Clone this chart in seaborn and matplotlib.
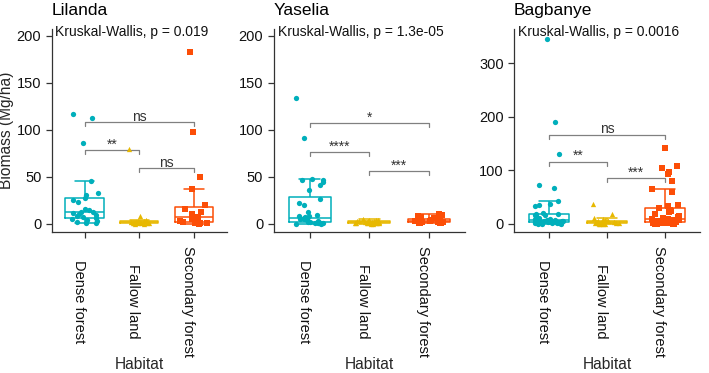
import numpy as np
import pandas as pd
import matplotlib
matplotlib.use("Agg")
import matplotlib.pyplot as plt
import matplotlib.transforms as mtransforms
import seaborn as sns

habitats = ["Dense forest", "Fallow land", "Secondary forest"]
palette = ["#00AFBB", "#E7B800", "#FC4E07"]
markers = ["o", "^", "s"]

sites = ["Lilanda", "Yaselia", "Bagbanye"]
kw_labels = ["Kruskal-Wallis, p = 0.019",
             "Kruskal-Wallis, p = 1.3e-05",
             "Kruskal-Wallis, p = 0.0016"]

# biomass (Mg/ha) per plot
lilanda_dense = [117, 112, 86, 45, 33, 31, 27, 25, 23, 16, 15, 13, 12, 11, 10,
                 9, 8, 7, 6, 5, 4, 3, 2, 1, 0.5]
lilanda_fallow = [80, 8, 4, 3, 3, 2, 2, 2, 1.5, 1.5, 1, 1, 1, 0.5, 0.5, 0.3, 0.2, 0.1]
lilanda_secondary = [183, 98, 50, 37, 20, 16, 13, 10, 8, 7, 6, 5, 3, 2, 1, 0.8,
                     0.5, 0.3, 0.2]

yaselia_dense = [134, 91, 48, 47, 46, 44, 41, 36, 26, 22, 20, 12, 9, 8, 8, 7, 6,
                 5, 5, 4, 3, 3, 2, 2, 1.5, 1, 1, 0.8, 0.5, 0.3, 0.2, 0.1]
yaselia_fallow = [5, 4.5, 4, 3.5, 3, 3, 2.5, 2, 2, 1.5, 1.5, 1, 1, 1, 0.8, 0.5,
                  0.5, 0.3, 0.2, 0.1]
yaselia_secondary = [10, 9, 8, 7, 6, 5, 5, 4.5, 4, 3.5, 3, 3, 2.5, 2, 2, 1.5, 1,
                     1, 0.5, 0.3]

bagbanye_dense = [345, 190, 131, 72, 67, 42, 38, 36, 34, 20, 19, 18, 17, 16, 15,
                  12, 10, 9, 8, 7, 7, 6, 6, 5, 5, 4, 4, 3.5, 3, 3, 2.5, 2, 2,
                  1.5, 1, 1, 0.8, 0.5, 0.3]
bagbanye_fallow = [38, 19, 11, 9, 7, 6, 5, 5, 4, 4, 3, 3, 2.5, 2, 2, 1.5, 1, 1,
                   0.8, 0.5, 0.3, 0.2]
bagbanye_secondary = [141, 108, 104, 98, 94, 80, 66, 59, 36, 33, 29, 27, 25, 22,
                      18, 15, 13, 11, 10, 9, 8, 7, 7, 6, 5, 5, 4, 4, 3, 3, 2.5,
                      2, 2, 1.5, 1, 1, 0.8, 0.5, 0.3, 0.2]

site_data = [
    [lilanda_dense, lilanda_fallow, lilanda_secondary],
    [yaselia_dense, yaselia_fallow, yaselia_secondary],
    [bagbanye_dense, bagbanye_fallow, bagbanye_secondary],
]

# pairwise Wilcoxon results: (group a, group b, label)
pair_tests = [
    [(0, 2, "ns"), (0, 1, "**"), (1, 2, "ns")],
    [(0, 2, "*"), (0, 1, "****"), (1, 2, "***")],
    [(0, 2, "ns"), (0, 1, "**"), (1, 2, "***")],
]

sns.set_style("ticks")
plt.rcParams["font.family"] = ["Liberation Sans", "DejaVu Sans"]
np.random.seed(7)

fig = plt.figure(figsize=(7.09, 3.73), dpi=100)

# layout: axes rectangles, y ranges, ticks and bracket heights
axes_pos = [[0.073, 0.378, 0.247, 0.544],
            [0.386, 0.378, 0.270, 0.544],
            [0.725, 0.378, 0.262, 0.544]]
ylims = [(-8.8, 207), (-8.8, 207), (-15, 364)]
yticks = [[0, 50, 100, 150, 200], [0, 50, 100, 150, 200], [0, 100, 200, 300]]
bracket_y = [[108, 78, 59], [107, 76, 56], [167, 116, 86]]
label_shift = mtransforms.ScaledTranslation(-6 / 100, 0, fig.dpi_scale_trans)

for i, site in enumerate(sites):
    ax = fig.add_axes(axes_pos[i])
    rows = []
    for h, vals in zip(habitats, site_data[i]):
        rows += [(h, v) for v in vals]
    df = pd.DataFrame(rows, columns=["Habitat", "Biomass"])

    sns.boxplot(data=df, x="Habitat", y="Biomass", order=habitats, hue="Habitat",
                hue_order=habitats, palette=palette, fill=False, showfliers=False,
                width=0.7, linewidth=1.1, legend=False, ax=ax)
    for h, c, m in zip(habitats, palette, markers):
        sns.stripplot(data=df[df["Habitat"] == h], x="Habitat", y="Biomass",
                      order=habitats, color=c, marker=m, size=3.8, jitter=0.25,
                      linewidth=0, ax=ax)

    span = ylims[i][1] - ylims[i][0]
    tip = span * 0.02
    for (a, b, lab), y in zip(pair_tests[i], bracket_y[i]):
        ax.plot([a, a, b, b], [y - tip, y, y, y - tip], color="#808080", lw=0.9)
        ax.text((a + b) / 2, y + span * 0.008, lab, ha="center", va="baseline",
                fontsize=10, color="#333333")

    ax.text(0.02, 0.985, kw_labels[i], transform=ax.transAxes, ha="left",
            va="center", fontsize=10, color="#111111")
    ax.text(0.0, 1.09, site, transform=ax.transAxes, ha="left", va="center",
            fontsize=12.5, color="black")

    ax.set_xlim(-0.6, 2.6)
    ax.set_ylim(*ylims[i])
    ax.set_yticks(yticks[i])
    ax.tick_params(axis="both", labelsize=10.5, length=4, width=0.9,
                   colors="#333333", labelcolor="#111111")
    ax.tick_params(axis="x", labelrotation=-90, pad=46)
    for lab in ax.get_xticklabels():
        lab.set_va("center")
        lab.set_ha("center")
        lab.set_transform(lab.get_transform() + label_shift)
    ax.set_xlabel("Habitat", fontsize=11.2)
    ax.xaxis.set_label_coords(0.5, -0.615)
    if i == 0:
        ax.set_ylabel("Biomass (Mg/ha)", fontsize=11.2)
        ax.yaxis.set_label_coords(-0.215, 0.5)
    else:
        ax.set_ylabel("")
    for s in ["left", "bottom"]:
        ax.spines[s].set_color("#333333")
        ax.spines[s].set_linewidth(0.9)
    sns.despine(ax=ax)

fig.savefig("out.png", dpi=100)
